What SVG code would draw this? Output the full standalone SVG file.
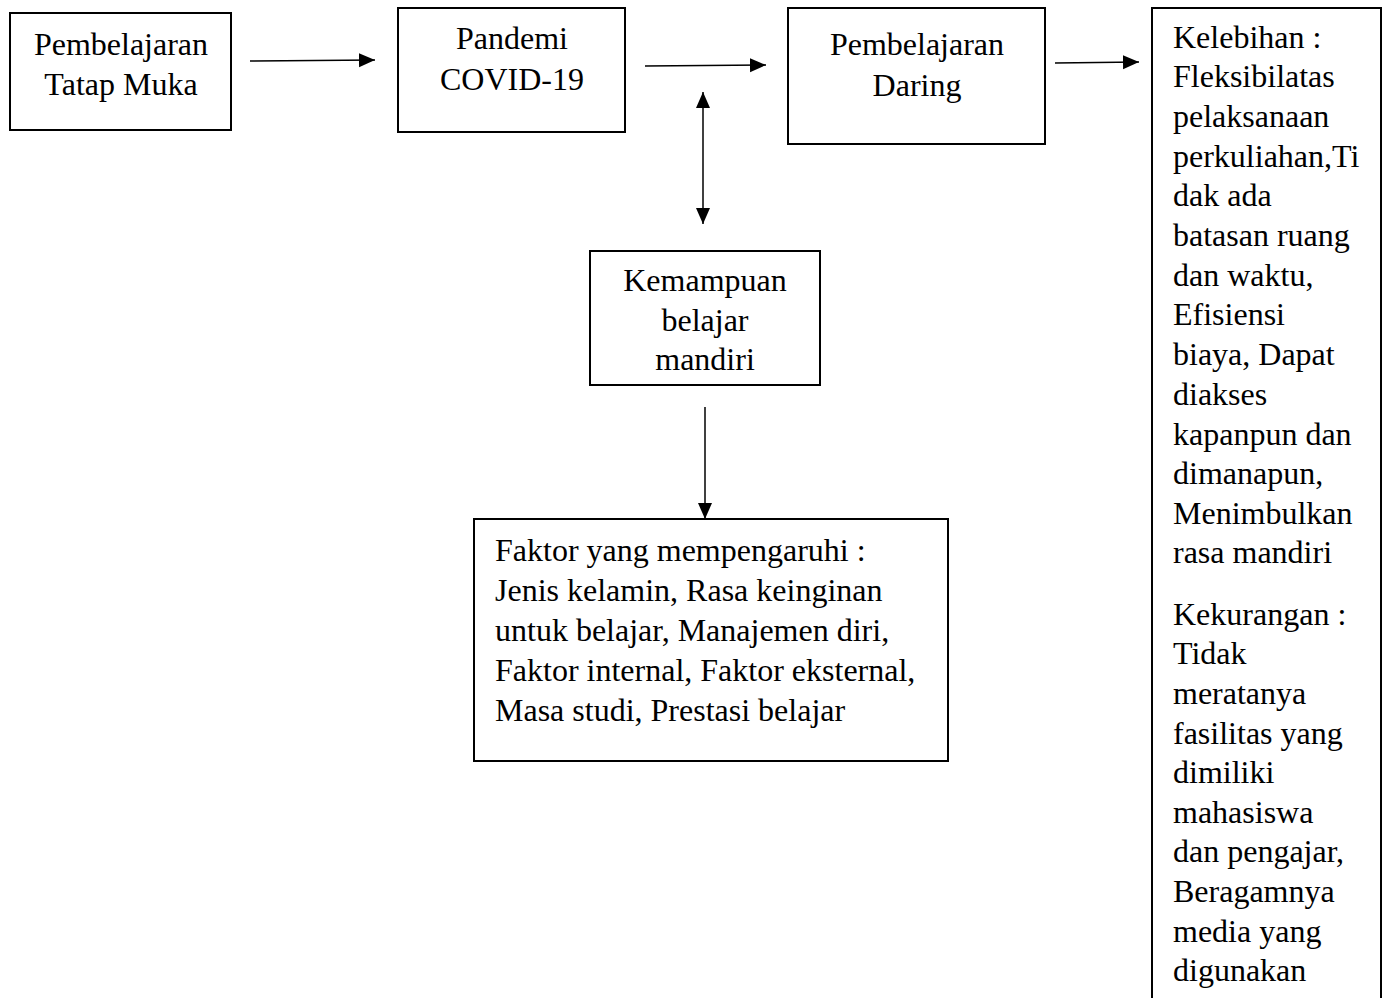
<svg xmlns="http://www.w3.org/2000/svg" width="1389" height="998" viewBox="0 0 1389 998">
<style>
.box{fill:#fff;stroke:#000;stroke-width:2}
.t{font-family:"Liberation Serif","Times New Roman",serif;font-size:32px;fill:#000}
.c{text-anchor:middle}
.ln{stroke:#000;stroke-width:1.5;fill:none}
</style>
<defs>
<marker id="ah" markerUnits="userSpaceOnUse" markerWidth="16" markerHeight="16" viewBox="0 0 16 16" refX="16" refY="8" orient="auto-start-reverse">
<path d="M0,1 L16,8 L0,15 Z" fill="#000"/>
</marker>
</defs>
<rect width="1389" height="998" fill="#fff"/>
<g id="connectors">
<line class="ln" x1="250" y1="61" x2="375" y2="60" marker-end="url(#ah)"/>
<line class="ln" x1="645" y1="66" x2="766" y2="65" marker-end="url(#ah)"/>
<line class="ln" x1="1055" y1="63" x2="1139" y2="62" marker-end="url(#ah)"/>
<line class="ln" x1="703" y1="92" x2="703" y2="224" marker-start="url(#ah)" marker-end="url(#ah)"/>
<line class="ln" x1="705" y1="407" x2="705" y2="519" marker-end="url(#ah)"/>
</g>
<g id="node-tatap-muka">
<rect class="box" x="10" y="13" width="221" height="117"/>
<text class="t c" x="121" y="55">Pembelajaran</text>
<text class="t c" x="121" y="95">Tatap Muka</text>
</g>
<g id="node-pandemi">
<rect class="box" x="398" y="8" width="227" height="124"/>
<text class="t c" x="512" y="49">Pandemi</text>
<text class="t c" x="512" y="90">COVID-19</text>
</g>
<g id="node-daring">
<rect class="box" x="788" y="8" width="257" height="136"/>
<text class="t c" x="917" y="55">Pembelajaran</text>
<text class="t c" x="917" y="96">Daring</text>
</g>
<g id="node-kelebihan">
<path class="box" d="M1152,1000 L1152,8 L1381,8 L1381,1000"/>
<text class="t" x="1173" y="48">Kelebihan :</text>
<text class="t" x="1173" y="87">Fleksibilatas</text>
<text class="t" x="1173" y="127">pelaksanaan</text>
<text class="t" x="1173" y="167">perkuliahan,Ti</text>
<text class="t" x="1173" y="206">dak ada</text>
<text class="t" x="1173" y="246">batasan ruang</text>
<text class="t" x="1173" y="286">dan waktu,</text>
<text class="t" x="1173" y="325">Efisiensi</text>
<text class="t" x="1173" y="365">biaya, Dapat</text>
<text class="t" x="1173" y="405">diakses</text>
<text class="t" x="1173" y="445">kapanpun dan</text>
<text class="t" x="1173" y="484">dimanapun,</text>
<text class="t" x="1173" y="524">Menimbulkan</text>
<text class="t" x="1173" y="563">rasa mandiri</text>
<text class="t" x="1173" y="625">Kekurangan :</text>
<text class="t" x="1173" y="664">Tidak</text>
<text class="t" x="1173" y="704">meratanya</text>
<text class="t" x="1173" y="744">fasilitas yang</text>
<text class="t" x="1173" y="783">dimiliki</text>
<text class="t" x="1173" y="823">mahasiswa</text>
<text class="t" x="1173" y="862">dan pengajar,</text>
<text class="t" x="1173" y="902">Beragamnya</text>
<text class="t" x="1173" y="942">media yang</text>
<text class="t" x="1173" y="981">digunakan</text>
</g>
<g id="node-kemampuan">
<rect class="box" x="590" y="251" width="230" height="134"/>
<text class="t c" x="705" y="291">Kemampuan</text>
<text class="t c" x="705" y="331">belajar</text>
<text class="t c" x="705" y="370">mandiri</text>
</g>
<g id="node-faktor">
<rect class="box" x="474" y="519" width="474" height="242"/>
<text class="t" x="495" y="561">Faktor yang mempengaruhi :</text>
<text class="t" x="495" y="601">Jenis kelamin, Rasa keinginan</text>
<text class="t" x="495" y="641">untuk belajar, Manajemen diri,</text>
<text class="t" x="495" y="681">Faktor internal, Faktor eksternal,</text>
<text class="t" x="495" y="721">Masa studi, Prestasi belajar</text>
</g>
</svg>
